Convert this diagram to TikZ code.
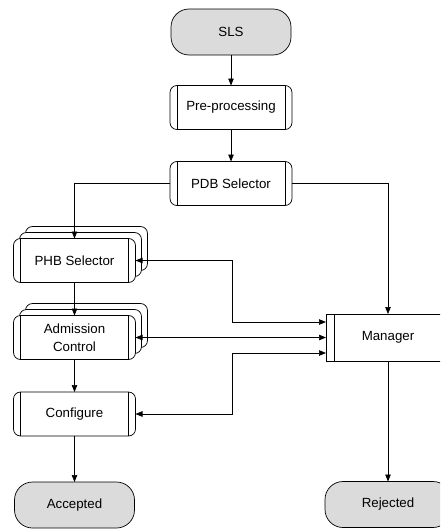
\documentclass[tikz,border=0pt]{standalone}
\usepackage{fontspec}
\setmainfont{Liberation Sans}
\usetikzlibrary{arrows.meta,shadows}

\begin{document}
\begin{tikzpicture}[
  x=1pt, y=-1pt,
  font=\fontsize{13.3}{17.5}\selectfont,
  every node/.style={inner sep=0pt, outer sep=0pt, line width=0.7pt},
  term/.style={draw, fill=gray!28, rounded corners=18pt, minimum width=120pt, minimum height=46pt, align=center},
  proc/.style={draw, fill=white, rounded corners=7pt, minimum width=122pt, minimum height=44pt, align=center,
    path picture={
      \draw ([xshift=7pt]path picture bounding box.north west) -- ([xshift=7pt]path picture bounding box.south west);
      \draw ([xshift=-7pt]path picture bounding box.north east) -- ([xshift=-7pt]path picture bounding box.south east);}},
  stack/.style={proc, double copy shadow={shadow xshift=6pt, shadow yshift=6pt}},
  mgrbox/.style={draw, fill=white, minimum width=124pt, minimum height=47pt, align=center,
    path picture={\draw ([xshift=8pt]path picture bounding box.north west) -- ([xshift=8pt]path picture bounding box.south west);}},
  line/.style={line width=0.7pt, -{Triangle[length=7pt,width=5.5pt]}},
  both/.style={line width=0.7pt, {Triangle[length=7pt,width=5.5pt]}-{Triangle[length=7pt,width=5.5pt]}}
]
\useasboundingbox (0,0) rectangle (440,530);
\clip (0,0) rectangle (440,530);

\node[term] (sls) at (231,32) {SLS};
\node[proc] (pre) at (231,107.5) {Pre-processing};
\node[proc] (pdb) at (231,183.5) {PDB Selector};
\node[stack] (phb) at (74.5,260.5) {PHB Selector};
\node[stack] (adm) at (74.5,337.5) {Admission\\Control};
\node[proc] (cfg) at (74.5,414) {Configure};
\node[term] (acc) at (74.5,505) {Accepted};
\node[mgrbox] (mgr) at (388,337.5) {Manager};
\node[term, minimum width=126pt] (rej) at (388,504.5) {Rejected};
\coordinate (bus) at (232,0);

\draw[line] (sls) -- (pre);
\draw[line] (pre) -- (pdb);
\draw[line] (pdb.west) -| (phb.north);
\draw[line] (pdb.east) -| (mgr.north);
\draw[both] (phb.east) -- (phb.east -| bus) |- ([yshift=15.5pt]mgr.west);
\draw[both] (adm.east) -- (mgr.west);
\draw[both] (cfg.east) -- (cfg.east -| bus) |- ([yshift=-15.5pt]mgr.west);
\draw[line] (adm) -- (cfg);
\draw[line] (phb) -- (adm);
\draw[line] (cfg) -- (acc);
\draw[line] (mgr.south) -- (rej.north);
\end{tikzpicture}
\end{document}
